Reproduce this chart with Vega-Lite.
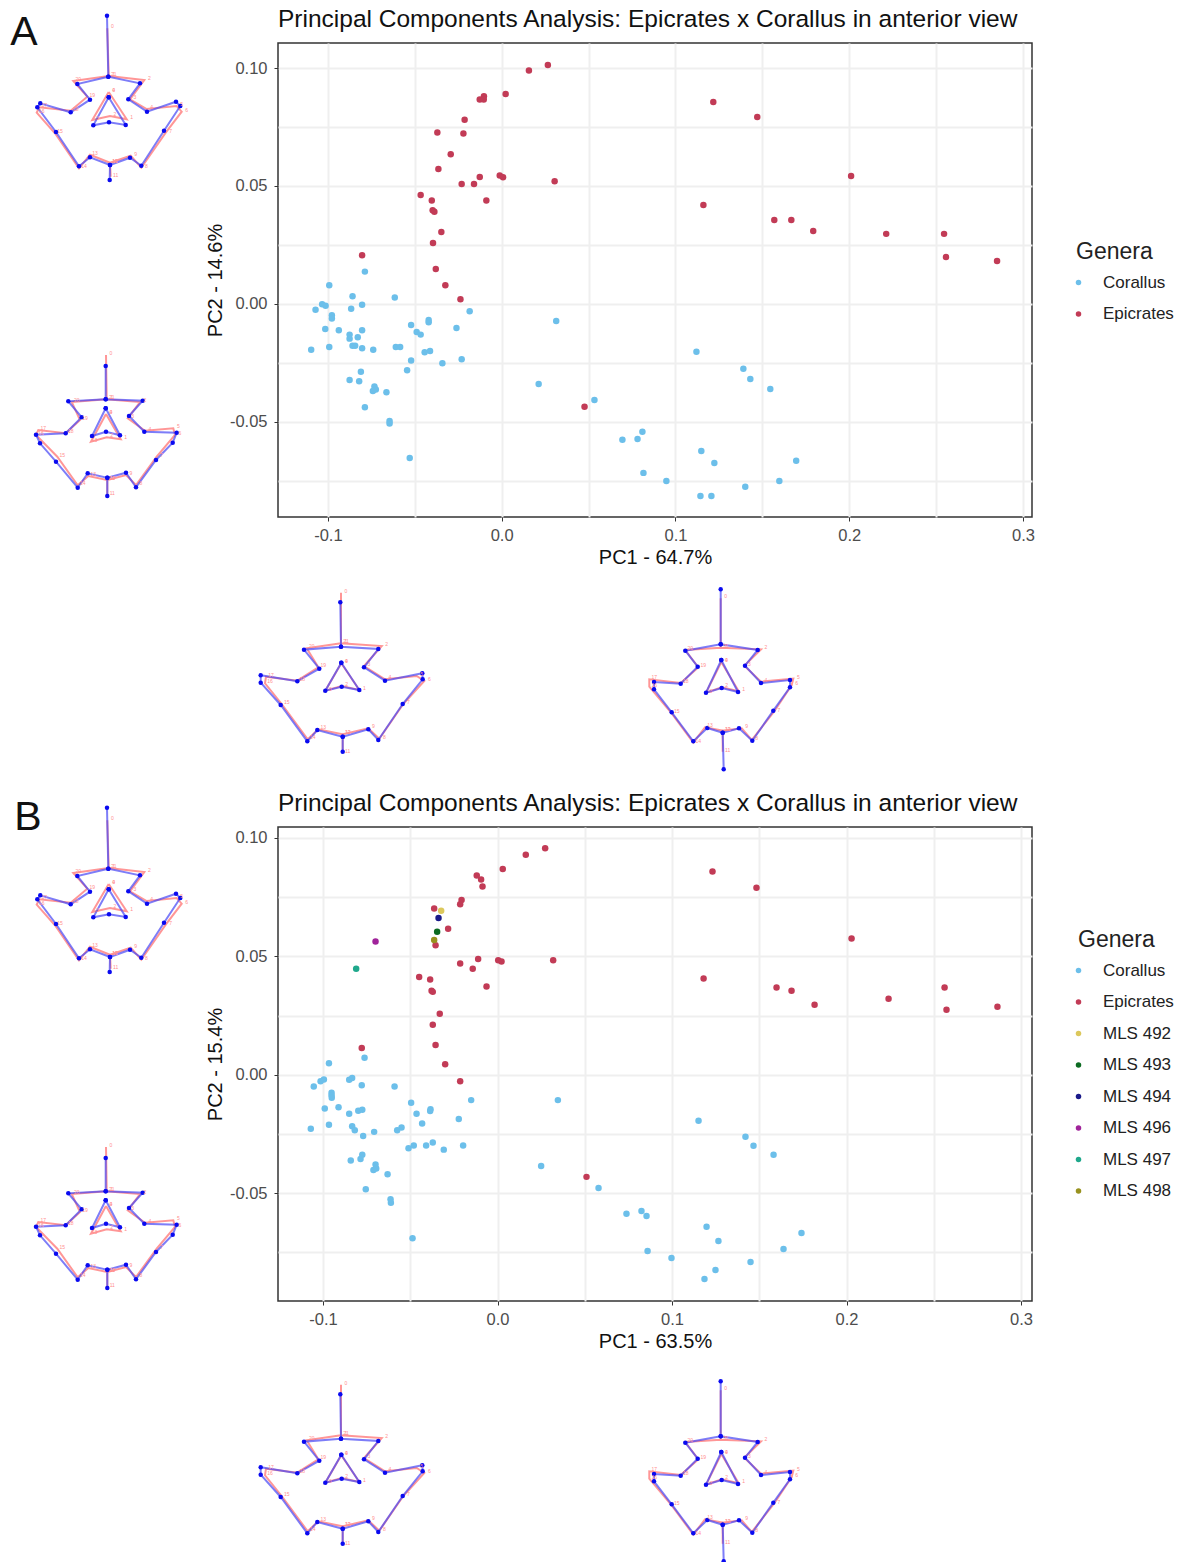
{
"$schema":"https://vega.github.io/schema/vega-lite/v6.json",
"padding":{"left":0,"top":5,"right":0,"bottom":0},
"columns":2,"spacing":0,"bounds":"flush",
"resolve":{"scale":{"color":"independent"},"legend":{"color":"independent"}},
"config":{"view":{"stroke":null},"font":"Liberation Sans",
"axis":{"gridColor":"#efefef","gridWidth":2,"tickColor":"#333333","tickSize":4,"labelColor":"#4d4d4d","labelFontSize":16.5,"labelPadding":6,"titleFontSize":20,"titleFontWeight":"normal","titleColor":"#111111","domain":false,"labelFont":"Liberation Sans","titleFont":"Liberation Sans"},
"legend":{"titleFontSize":23,"titleFontWeight":"normal","titleColor":"#222222","labelFontSize":17,"labelColor":"#222222","symbolSize":30,"symbolType":"circle","symbolOffset":-6,"labelOffset":16,"rowPadding":13.5,"titlePadding":10},
"title":{"fontSize":24.5,"fontWeight":"normal","color":"#111111","anchor":"start","frame":"group","offset":11}},
"datasets":{
"panelA":[
{"Genera":"Epicrates","PC1":0.0266,"PC2":0.1013},{"Genera":"Epicrates","PC1":0.0157,"PC2":0.0989},{"Genera":"Epicrates","PC1":0.0023,"PC2":0.089},{"Genera":"Epicrates","PC1":-0.0102,"PC2":0.088},{"Genera":"Epicrates","PC1":-0.0126,"PC2":0.0867},{"Genera":"Epicrates","PC1":-0.0103,"PC2":0.0867},{"Genera":"Epicrates","PC1":-0.0213,"PC2":0.0781},{"Genera":"Epicrates","PC1":-0.022,"PC2":0.0722},{"Genera":"Epicrates","PC1":-0.037,"PC2":0.0727},{"Genera":"Epicrates","PC1":-0.0293,"PC2":0.0634},{"Genera":"Epicrates","PC1":-0.0364,"PC2":0.0572},{"Genera":"Epicrates","PC1":-0.0126,"PC2":0.0538},{"Genera":"Epicrates","PC1":-0.023,"PC2":0.0508},{"Genera":"Epicrates","PC1":-0.0159,"PC2":0.0508},{"Genera":"Epicrates","PC1":-0.0011,"PC2":0.0544},{"Genera":"Epicrates","PC1":0.0008,"PC2":0.0537},{"Genera":"Epicrates","PC1":0.0305,"PC2":0.052},{"Genera":"Epicrates","PC1":-0.0466,"PC2":0.0462},{"Genera":"Epicrates","PC1":-0.0402,"PC2":0.0438},{"Genera":"Epicrates","PC1":-0.0088,"PC2":0.0438},{"Genera":"Epicrates","PC1":-0.0397,"PC2":0.0397},{"Genera":"Epicrates","PC1":-0.0387,"PC2":0.0391},{"Genera":"Epicrates","PC1":-0.0347,"PC2":0.0305},{"Genera":"Epicrates","PC1":-0.0395,"PC2":0.0258},{"Genera":"Epicrates","PC1":-0.0803,"PC2":0.0206},{"Genera":"Epicrates","PC1":-0.0379,"PC2":0.0148},{"Genera":"Epicrates","PC1":-0.0324,"PC2":0.0079},{"Genera":"Epicrates","PC1":-0.0237,"PC2":0.002},{"Genera":"Epicrates","PC1":0.0477,"PC2":-0.0436},{"Genera":"Epicrates","PC1":0.1218,"PC2":0.0856},{"Genera":"Epicrates","PC1":0.1471,"PC2":0.0792},{"Genera":"Epicrates","PC1":0.2011,"PC2":0.0542},{"Genera":"Epicrates","PC1":0.1161,"PC2":0.0419},{"Genera":"Epicrates","PC1":0.1569,"PC2":0.0356},{"Genera":"Epicrates","PC1":0.1667,"PC2":0.0356},{"Genera":"Epicrates","PC1":0.1793,"PC2":0.0309},{"Genera":"Epicrates","PC1":0.2213,"PC2":0.0297},{"Genera":"Epicrates","PC1":0.2546,"PC2":0.0297},{"Genera":"Epicrates","PC1":0.2557,"PC2":0.0199},{"Genera":"Epicrates","PC1":0.2851,"PC2":0.0182},
{"Genera":"Corallus","PC1":-0.0787,"PC2":0.0137},{"Genera":"Corallus","PC1":-0.0992,"PC2":0.0079},{"Genera":"Corallus","PC1":-0.0858,"PC2":0.0033},{"Genera":"Corallus","PC1":-0.0615,"PC2":0.0027},{"Genera":"Corallus","PC1":-0.0803,"PC2":-0.0003},{"Genera":"Corallus","PC1":-0.1033,"PC2":-0.0001},{"Genera":"Corallus","PC1":-0.1013,"PC2":-0.0008},{"Genera":"Corallus","PC1":-0.1071,"PC2":-0.0025},{"Genera":"Corallus","PC1":-0.0866,"PC2":-0.002},{"Genera":"Corallus","PC1":-0.0977,"PC2":-0.0048},{"Genera":"Corallus","PC1":-0.0977,"PC2":-0.0062},{"Genera":"Corallus","PC1":-0.0184,"PC2":-0.0031},{"Genera":"Corallus","PC1":-0.042,"PC2":-0.0068},{"Genera":"Corallus","PC1":-0.042,"PC2":-0.0078},{"Genera":"Corallus","PC1":-0.0521,"PC2":-0.0089},{"Genera":"Corallus","PC1":-0.026,"PC2":-0.0102},{"Genera":"Corallus","PC1":0.0314,"PC2":-0.0072},{"Genera":"Corallus","PC1":-0.1015,"PC2":-0.0106},{"Genera":"Corallus","PC1":-0.0937,"PC2":-0.0111},{"Genera":"Corallus","PC1":-0.0803,"PC2":-0.0111},{"Genera":"Corallus","PC1":-0.0489,"PC2":-0.0119},{"Genera":"Corallus","PC1":-0.0466,"PC2":-0.013},{"Genera":"Corallus","PC1":-0.0875,"PC2":-0.013},{"Genera":"Corallus","PC1":-0.0875,"PC2":-0.0147},{"Genera":"Corallus","PC1":-0.0828,"PC2":-0.0141},{"Genera":"Corallus","PC1":-0.0858,"PC2":-0.0177},{"Genera":"Corallus","PC1":-0.0843,"PC2":-0.0177},{"Genera":"Corallus","PC1":-0.0992,"PC2":-0.0182},{"Genera":"Corallus","PC1":-0.0803,"PC2":-0.0188},{"Genera":"Corallus","PC1":-0.0739,"PC2":-0.0194},{"Genera":"Corallus","PC1":-0.1096,"PC2":-0.0194},{"Genera":"Corallus","PC1":-0.0609,"PC2":-0.0182},{"Genera":"Corallus","PC1":-0.0584,"PC2":-0.0182},{"Genera":"Corallus","PC1":-0.0412,"PC2":-0.0199},{"Genera":"Corallus","PC1":-0.0443,"PC2":-0.0205},{"Genera":"Corallus","PC1":-0.0521,"PC2":-0.024},{"Genera":"Corallus","PC1":-0.023,"PC2":-0.0234},{"Genera":"Corallus","PC1":-0.0341,"PC2":-0.0251},{"Genera":"Corallus","PC1":-0.0544,"PC2":-0.0281},{"Genera":"Corallus","PC1":-0.081,"PC2":-0.0287},{"Genera":"Corallus","PC1":-0.0875,"PC2":-0.0322},{"Genera":"Corallus","PC1":-0.082,"PC2":-0.0328},{"Genera":"Corallus","PC1":-0.0732,"PC2":-0.035},{"Genera":"Corallus","PC1":-0.0724,"PC2":-0.0363},{"Genera":"Corallus","PC1":-0.0741,"PC2":-0.0369},{"Genera":"Corallus","PC1":-0.0663,"PC2":-0.0374},{"Genera":"Corallus","PC1":-0.0787,"PC2":-0.0438},{"Genera":"Corallus","PC1":-0.0645,"PC2":-0.0496},{"Genera":"Corallus","PC1":-0.0645,"PC2":-0.0507},{"Genera":"Corallus","PC1":-0.0529,"PC2":-0.0653},{"Genera":"Corallus","PC1":0.0213,"PC2":-0.0339},{"Genera":"Corallus","PC1":0.1121,"PC2":-0.0203},{"Genera":"Corallus","PC1":0.1391,"PC2":-0.0275},{"Genera":"Corallus","PC1":0.1431,"PC2":-0.0318},{"Genera":"Corallus","PC1":0.1546,"PC2":-0.036},{"Genera":"Corallus","PC1":0.0534,"PC2":-0.0407},{"Genera":"Corallus","PC1":0.0695,"PC2":-0.0576},{"Genera":"Corallus","PC1":0.0782,"PC2":-0.0572},{"Genera":"Corallus","PC1":0.081,"PC2":-0.0542},{"Genera":"Corallus","PC1":0.0816,"PC2":-0.0716},{"Genera":"Corallus","PC1":0.0948,"PC2":-0.075},{"Genera":"Corallus","PC1":0.1149,"PC2":-0.0623},{"Genera":"Corallus","PC1":0.1224,"PC2":-0.0674},{"Genera":"Corallus","PC1":0.1695,"PC2":-0.0665},{"Genera":"Corallus","PC1":0.1402,"PC2":-0.0775},{"Genera":"Corallus","PC1":0.1598,"PC2":-0.075},{"Genera":"Corallus","PC1":0.1144,"PC2":-0.0814},{"Genera":"Corallus","PC1":0.1207,"PC2":-0.0814}
],
"panelB":[
{"Genera":"Epicrates","PC1":0.0273,"PC2":0.0956},{"Genera":"Epicrates","PC1":0.0162,"PC2":0.0929},{"Genera":"Epicrates","PC1":0.003,"PC2":0.0869},{"Genera":"Epicrates","PC1":-0.0119,"PC2":0.0841},{"Genera":"Epicrates","PC1":-0.0094,"PC2":0.0824},{"Genera":"Epicrates","PC1":-0.0086,"PC2":0.0795},{"Genera":"Epicrates","PC1":-0.0206,"PC2":0.0738},{"Genera":"Epicrates","PC1":-0.0214,"PC2":0.072},{"Genera":"Epicrates","PC1":-0.0363,"PC2":0.0702},{"Genera":"Epicrates","PC1":-0.0283,"PC2":0.0616},{"Genera":"Epicrates","PC1":-0.0355,"PC2":0.0547},{"Genera":"Epicrates","PC1":-0.0111,"PC2":0.0489},{"Genera":"Epicrates","PC1":-0.0214,"PC2":0.047},{"Genera":"Epicrates","PC1":-0.0142,"PC2":0.0448},{"Genera":"Epicrates","PC1":0.0004,"PC2":0.0483},{"Genera":"Epicrates","PC1":0.0023,"PC2":0.0478},{"Genera":"Epicrates","PC1":0.0319,"PC2":0.0483},{"Genera":"Epicrates","PC1":-0.0449,"PC2":0.0413},{"Genera":"Epicrates","PC1":-0.0386,"PC2":0.0402},{"Genera":"Epicrates","PC1":-0.0063,"PC2":0.0373},{"Genera":"Epicrates","PC1":-0.0378,"PC2":0.0355},{"Genera":"Epicrates","PC1":-0.0371,"PC2":0.035},{"Genera":"Epicrates","PC1":-0.0331,"PC2":0.0258},{"Genera":"Epicrates","PC1":-0.0371,"PC2":0.0211},{"Genera":"Epicrates","PC1":-0.0778,"PC2":0.0113},{"Genera":"Epicrates","PC1":-0.0355,"PC2":0.0126},{"Genera":"Epicrates","PC1":-0.03,"PC2":0.0044},{"Genera":"Epicrates","PC1":-0.0214,"PC2":-0.0027},{"Genera":"Epicrates","PC1":0.051,"PC2":-0.0431},{"Genera":"Epicrates","PC1":0.1232,"PC2":0.0858},{"Genera":"Epicrates","PC1":0.1484,"PC2":0.079},{"Genera":"Epicrates","PC1":0.2029,"PC2":0.0575},{"Genera":"Epicrates","PC1":0.1181,"PC2":0.0406},{"Genera":"Epicrates","PC1":0.1599,"PC2":0.0368},{"Genera":"Epicrates","PC1":0.1685,"PC2":0.0355},{"Genera":"Epicrates","PC1":0.1817,"PC2":0.0296},{"Genera":"Epicrates","PC1":0.2241,"PC2":0.0321},{"Genera":"Epicrates","PC1":0.2562,"PC2":0.0368},{"Genera":"Epicrates","PC1":0.2573,"PC2":0.0275},{"Genera":"Epicrates","PC1":0.2865,"PC2":0.0287},
{"Genera":"MLS 492","PC1":-0.0323,"PC2":0.0692},{"Genera":"MLS 494","PC1":-0.0338,"PC2":0.0662},{"Genera":"MLS 493","PC1":-0.0346,"PC2":0.0604},{"Genera":"MLS 498","PC1":-0.0363,"PC2":0.0569},{"Genera":"MLS 496","PC1":-0.0699,"PC2":0.0563},{"Genera":"MLS 497","PC1":-0.081,"PC2":0.0448},
{"Genera":"Corallus","PC1":-0.0762,"PC2":0.0072},{"Genera":"Corallus","PC1":-0.0966,"PC2":0.0049},{"Genera":"Corallus","PC1":-0.0995,"PC2":-0.002},{"Genera":"Corallus","PC1":-0.1014,"PC2":-0.0027},{"Genera":"Corallus","PC1":-0.1053,"PC2":-0.0049},{"Genera":"Corallus","PC1":-0.085,"PC2":-0.0021},{"Genera":"Corallus","PC1":-0.0833,"PC2":-0.0014},{"Genera":"Corallus","PC1":-0.0778,"PC2":-0.0044},{"Genera":"Corallus","PC1":-0.059,"PC2":-0.0049},{"Genera":"Corallus","PC1":-0.0951,"PC2":-0.0076},{"Genera":"Corallus","PC1":-0.0951,"PC2":-0.0086},{"Genera":"Corallus","PC1":-0.095,"PC2":-0.0097},{"Genera":"Corallus","PC1":-0.0495,"PC2":-0.0118},{"Genera":"Corallus","PC1":-0.0151,"PC2":-0.0107},{"Genera":"Corallus","PC1":0.0346,"PC2":-0.0107},{"Genera":"Corallus","PC1":-0.099,"PC2":-0.0142},{"Genera":"Corallus","PC1":-0.0911,"PC2":-0.0137},{"Genera":"Corallus","PC1":-0.0798,"PC2":-0.0152},{"Genera":"Corallus","PC1":-0.0775,"PC2":-0.0148},{"Genera":"Corallus","PC1":-0.085,"PC2":-0.0165},{"Genera":"Corallus","PC1":-0.0464,"PC2":-0.0165},{"Genera":"Corallus","PC1":-0.0384,"PC2":-0.0145},{"Genera":"Corallus","PC1":-0.0386,"PC2":-0.0153},{"Genera":"Corallus","PC1":-0.0222,"PC2":-0.0187},{"Genera":"Corallus","PC1":-0.0432,"PC2":-0.0206},{"Genera":"Corallus","PC1":-0.0966,"PC2":-0.0211},{"Genera":"Corallus","PC1":-0.0833,"PC2":-0.0217},{"Genera":"Corallus","PC1":-0.0818,"PC2":-0.0234},{"Genera":"Corallus","PC1":-0.107,"PC2":-0.0228},{"Genera":"Corallus","PC1":-0.055,"PC2":-0.0223},{"Genera":"Corallus","PC1":-0.0575,"PC2":-0.0234},{"Genera":"Corallus","PC1":-0.0707,"PC2":-0.0241},{"Genera":"Corallus","PC1":-0.077,"PC2":-0.0258},{"Genera":"Corallus","PC1":-0.0371,"PC2":-0.0286},{"Genera":"Corallus","PC1":-0.0409,"PC2":-0.0299},{"Genera":"Corallus","PC1":-0.048,"PC2":-0.0299},{"Genera":"Corallus","PC1":-0.051,"PC2":-0.031},{"Genera":"Corallus","PC1":-0.0197,"PC2":-0.0299},{"Genera":"Corallus","PC1":-0.0308,"PC2":-0.0316},{"Genera":"Corallus","PC1":-0.0775,"PC2":-0.0338},{"Genera":"Corallus","PC1":-0.0785,"PC2":-0.0356},{"Genera":"Corallus","PC1":-0.0841,"PC2":-0.0362},{"Genera":"Corallus","PC1":-0.0699,"PC2":-0.0379},{"Genera":"Corallus","PC1":-0.0695,"PC2":-0.0396},{"Genera":"Corallus","PC1":-0.0711,"PC2":-0.0402},{"Genera":"Corallus","PC1":-0.063,"PC2":-0.042},{"Genera":"Corallus","PC1":-0.0755,"PC2":-0.0483},{"Genera":"Corallus","PC1":-0.0613,"PC2":-0.0525},{"Genera":"Corallus","PC1":-0.0611,"PC2":-0.054},{"Genera":"Corallus","PC1":-0.0487,"PC2":-0.069},{"Genera":"Corallus","PC1":0.025,"PC2":-0.0385},{"Genera":"Corallus","PC1":0.1152,"PC2":-0.0194},{"Genera":"Corallus","PC1":0.1421,"PC2":-0.0262},{"Genera":"Corallus","PC1":0.1467,"PC2":-0.03},{"Genera":"Corallus","PC1":0.1582,"PC2":-0.0338},{"Genera":"Corallus","PC1":0.0579,"PC2":-0.0478},{"Genera":"Corallus","PC1":0.0739,"PC2":-0.0587},{"Genera":"Corallus","PC1":0.0825,"PC2":-0.0575},{"Genera":"Corallus","PC1":0.0854,"PC2":-0.0596},{"Genera":"Corallus","PC1":0.086,"PC2":-0.0744},{"Genera":"Corallus","PC1":0.0997,"PC2":-0.0773},{"Genera":"Corallus","PC1":0.1198,"PC2":-0.0642},{"Genera":"Corallus","PC1":0.1266,"PC2":-0.0702},{"Genera":"Corallus","PC1":0.1742,"PC2":-0.0668},{"Genera":"Corallus","PC1":0.145,"PC2":-0.079},{"Genera":"Corallus","PC1":0.1639,"PC2":-0.0735},{"Genera":"Corallus","PC1":0.1186,"PC2":-0.0862},{"Genera":"Corallus","PC1":0.1249,"PC2":-0.0824}
],
"wires":[
{"w":"1","s":"Red","p":"o","i":0,"x":107.3,"y":28.3},{"w":"1","s":"Red","p":"o","i":1,"x":108.7,"y":76},{"w":"1","s":"Red","p":"o","i":2,"x":144.3,"y":80},{"w":"1","s":"Red","p":"o","i":3,"x":130,"y":99.3},{"w":"1","s":"Red","p":"o","i":4,"x":146.7,"y":109},{"w":"1","s":"Red","p":"o","i":5,"x":176.7,"y":106},{"w":"1","s":"Red","p":"o","i":6,"x":181.7,"y":111.7},{"w":"1","s":"Red","p":"o","i":7,"x":165.7,"y":132.7},{"w":"1","s":"Red","p":"o","i":8,"x":141.3,"y":167.7},{"w":"1","s":"Red","p":"o","i":9,"x":130.7,"y":155.7},{"w":"1","s":"Red","p":"o","i":10,"x":110,"y":162.7},{"w":"1","s":"Red","p":"o","i":11,"x":110.7,"y":176.7},{"w":"1","s":"Red","p":"o","i":12,"x":110,"y":162.7},{"w":"1","s":"Red","p":"o","i":13,"x":90,"y":154.7},{"w":"1","s":"Red","p":"o","i":14,"x":79,"y":168.3},{"w":"1","s":"Red","p":"o","i":15,"x":55,"y":133.3},{"w":"1","s":"Red","p":"o","i":16,"x":36.7,"y":112.7},{"w":"1","s":"Red","p":"o","i":17,"x":39.3,"y":107.3},{"w":"1","s":"Red","p":"o","i":18,"x":70.7,"y":110.7},{"w":"1","s":"Red","p":"o","i":19,"x":87.3,"y":96.7},{"w":"1","s":"Red","p":"o","i":20,"x":73.3,"y":81},{"w":"1","s":"Red","p":"o","i":21,"x":108.7,"y":76},
{"w":"1","s":"Red","p":"t","i":0,"x":108.7,"y":92},{"w":"1","s":"Red","p":"t","i":1,"x":126.7,"y":119.3},{"w":"1","s":"Red","p":"t","i":2,"x":110,"y":116},{"w":"1","s":"Red","p":"t","i":3,"x":92.3,"y":120},{"w":"1","s":"Red","p":"t","i":4,"x":108.7,"y":92},
{"w":"1","s":"Blue","p":"o","i":0,"x":107,"y":15.7},{"w":"1","s":"Blue","p":"o","i":1,"x":108.3,"y":76.7},{"w":"1","s":"Blue","p":"o","i":2,"x":140,"y":83.3},{"w":"1","s":"Blue","p":"o","i":3,"x":128.3,"y":99.3},{"w":"1","s":"Blue","p":"o","i":4,"x":147,"y":111.7},{"w":"1","s":"Blue","p":"o","i":5,"x":176,"y":101.7},{"w":"1","s":"Blue","p":"o","i":6,"x":180.3,"y":106},{"w":"1","s":"Blue","p":"o","i":7,"x":164,"y":130.7},{"w":"1","s":"Blue","p":"o","i":8,"x":141.3,"y":165.7},{"w":"1","s":"Blue","p":"o","i":9,"x":130,"y":157.7},{"w":"1","s":"Blue","p":"o","i":10,"x":110,"y":165},{"w":"1","s":"Blue","p":"o","i":11,"x":109.7,"y":180},{"w":"1","s":"Blue","p":"o","i":12,"x":110,"y":165},{"w":"1","s":"Blue","p":"o","i":13,"x":90,"y":157.3},{"w":"1","s":"Blue","p":"o","i":14,"x":79,"y":166.3},{"w":"1","s":"Blue","p":"o","i":15,"x":56,"y":132},{"w":"1","s":"Blue","p":"o","i":16,"x":37.3,"y":107.3},{"w":"1","s":"Blue","p":"o","i":17,"x":40.3,"y":103.3},{"w":"1","s":"Blue","p":"o","i":18,"x":70.7,"y":112.3},{"w":"1","s":"Blue","p":"o","i":19,"x":90,"y":99.7},{"w":"1","s":"Blue","p":"o","i":20,"x":77.3,"y":84},{"w":"1","s":"Blue","p":"o","i":21,"x":108.3,"y":76.7},
{"w":"1","s":"Blue","p":"t","i":0,"x":108.7,"y":97.3},{"w":"1","s":"Blue","p":"t","i":1,"x":125.7,"y":125},{"w":"1","s":"Blue","p":"t","i":2,"x":109,"y":122.3},{"w":"1","s":"Blue","p":"t","i":3,"x":93.3,"y":125.3},{"w":"1","s":"Blue","p":"t","i":4,"x":108.7,"y":97.3},

{"w":"2","s":"Red","p":"o","i":0,"x":106,"y":355},{"w":"2","s":"Red","p":"o","i":1,"x":106.7,"y":399.3},{"w":"2","s":"Red","p":"o","i":2,"x":140,"y":402},{"w":"2","s":"Red","p":"o","i":3,"x":127.7,"y":418.3},{"w":"2","s":"Red","p":"o","i":4,"x":145,"y":430.7},{"w":"2","s":"Red","p":"o","i":5,"x":173.3,"y":428.3},{"w":"2","s":"Red","p":"o","i":6,"x":175,"y":435},{"w":"2","s":"Red","p":"o","i":7,"x":156.7,"y":456.7},{"w":"2","s":"Red","p":"o","i":8,"x":136,"y":485},{"w":"2","s":"Red","p":"o","i":9,"x":126,"y":475},{"w":"2","s":"Red","p":"o","i":10,"x":107.3,"y":480},{"w":"2","s":"Red","p":"o","i":11,"x":107.3,"y":495},{"w":"2","s":"Red","p":"o","i":12,"x":107.3,"y":480},{"w":"2","s":"Red","p":"o","i":13,"x":88.3,"y":476},{"w":"2","s":"Red","p":"o","i":14,"x":77.7,"y":485.3},{"w":"2","s":"Red","p":"o","i":15,"x":57.3,"y":456.7},{"w":"2","s":"Red","p":"o","i":16,"x":36,"y":435},{"w":"2","s":"Red","p":"o","i":17,"x":38.3,"y":430},{"w":"2","s":"Red","p":"o","i":18,"x":65.7,"y":433.3},{"w":"2","s":"Red","p":"o","i":19,"x":80,"y":420},{"w":"2","s":"Red","p":"o","i":20,"x":71.7,"y":402},{"w":"2","s":"Red","p":"o","i":21,"x":106.7,"y":399.3},
{"w":"2","s":"Red","p":"t","i":0,"x":106,"y":414},{"w":"2","s":"Red","p":"t","i":1,"x":120.7,"y":439.3},{"w":"2","s":"Red","p":"t","i":2,"x":106.7,"y":437.3},{"w":"2","s":"Red","p":"t","i":3,"x":91,"y":441.7},{"w":"2","s":"Red","p":"t","i":4,"x":106,"y":414},
{"w":"2","s":"Blue","p":"o","i":0,"x":105.7,"y":366},{"w":"2","s":"Blue","p":"o","i":1,"x":105.7,"y":399.3},{"w":"2","s":"Blue","p":"o","i":2,"x":142.7,"y":400.7},{"w":"2","s":"Blue","p":"o","i":3,"x":129,"y":416},{"w":"2","s":"Blue","p":"o","i":4,"x":144.3,"y":431.7},{"w":"2","s":"Blue","p":"o","i":5,"x":176.7,"y":432.7},{"w":"2","s":"Blue","p":"o","i":6,"x":172.7,"y":442.7},{"w":"2","s":"Blue","p":"o","i":7,"x":156,"y":460},{"w":"2","s":"Blue","p":"o","i":8,"x":136,"y":487.3},{"w":"2","s":"Blue","p":"o","i":9,"x":126,"y":472.7},{"w":"2","s":"Blue","p":"o","i":10,"x":107.3,"y":477.7},{"w":"2","s":"Blue","p":"o","i":11,"x":107.3,"y":496},{"w":"2","s":"Blue","p":"o","i":12,"x":107.3,"y":477.7},{"w":"2","s":"Blue","p":"o","i":13,"x":87.7,"y":473.3},{"w":"2","s":"Blue","p":"o","i":14,"x":77.7,"y":487.7},{"w":"2","s":"Blue","p":"o","i":15,"x":56,"y":461.7},{"w":"2","s":"Blue","p":"o","i":16,"x":40,"y":443.3},{"w":"2","s":"Blue","p":"o","i":17,"x":36,"y":434.7},{"w":"2","s":"Blue","p":"o","i":18,"x":65.7,"y":433.3},{"w":"2","s":"Blue","p":"o","i":19,"x":81.7,"y":417.3},{"w":"2","s":"Blue","p":"o","i":20,"x":68.3,"y":401.3},{"w":"2","s":"Blue","p":"o","i":21,"x":105.7,"y":399.3},
{"w":"2","s":"Blue","p":"t","i":0,"x":105.7,"y":408.3},{"w":"2","s":"Blue","p":"t","i":1,"x":120,"y":435.3},{"w":"2","s":"Blue","p":"t","i":2,"x":106,"y":431.7},{"w":"2","s":"Blue","p":"t","i":3,"x":92,"y":436},{"w":"2","s":"Blue","p":"t","i":4,"x":105.7,"y":408.3},

{"w":"3","s":"Red","p":"o","i":0,"x":341,"y":592.7},{"w":"3","s":"Red","p":"o","i":1,"x":341,"y":643.3},{"w":"3","s":"Red","p":"o","i":2,"x":381.7,"y":646},{"w":"3","s":"Red","p":"o","i":3,"x":364,"y":666},{"w":"3","s":"Red","p":"o","i":4,"x":385,"y":679.3},{"w":"3","s":"Red","p":"o","i":5,"x":416.7,"y":676},{"w":"3","s":"Red","p":"o","i":6,"x":424.3,"y":681},{"w":"3","s":"Red","p":"o","i":7,"x":403.3,"y":704},{"w":"3","s":"Red","p":"o","i":8,"x":379.3,"y":738.7},{"w":"3","s":"Red","p":"o","i":9,"x":368.3,"y":728.3},{"w":"3","s":"Red","p":"o","i":10,"x":342.7,"y":734.3},{"w":"3","s":"Red","p":"o","i":11,"x":342.7,"y":752.7},{"w":"3","s":"Red","p":"o","i":12,"x":342.7,"y":734.3},{"w":"3","s":"Red","p":"o","i":13,"x":318.3,"y":729.3},{"w":"3","s":"Red","p":"o","i":14,"x":307.7,"y":739.3},{"w":"3","s":"Red","p":"o","i":15,"x":281.7,"y":704},{"w":"3","s":"Red","p":"o","i":16,"x":265,"y":683.3},{"w":"3","s":"Red","p":"o","i":17,"x":266,"y":676.7},{"w":"3","s":"Red","p":"o","i":18,"x":297.3,"y":680.7},{"w":"3","s":"Red","p":"o","i":19,"x":318.3,"y":667.3},{"w":"3","s":"Red","p":"o","i":20,"x":306.7,"y":648.3},{"w":"3","s":"Red","p":"o","i":21,"x":341,"y":643.3},
{"w":"3","s":"Red","p":"t","i":0,"x":341.3,"y":663.3},{"w":"3","s":"Red","p":"t","i":1,"x":359.3,"y":690},{"w":"3","s":"Red","p":"t","i":2,"x":341.7,"y":686},{"w":"3","s":"Red","p":"t","i":3,"x":325.3,"y":690.7},{"w":"3","s":"Red","p":"t","i":4,"x":341.3,"y":663.3},
{"w":"3","s":"Blue","p":"o","i":0,"x":340.3,"y":602.3},{"w":"3","s":"Blue","p":"o","i":1,"x":341,"y":646.7},{"w":"3","s":"Blue","p":"o","i":2,"x":378.3,"y":649},{"w":"3","s":"Blue","p":"o","i":3,"x":364,"y":667.3},{"w":"3","s":"Blue","p":"o","i":4,"x":385,"y":680.7},{"w":"3","s":"Blue","p":"o","i":5,"x":422.3,"y":673.3},{"w":"3","s":"Blue","p":"o","i":6,"x":422.7,"y":679.3},{"w":"3","s":"Blue","p":"o","i":7,"x":402.7,"y":704},{"w":"3","s":"Blue","p":"o","i":8,"x":378.3,"y":740},{"w":"3","s":"Blue","p":"o","i":9,"x":368.3,"y":729.3},{"w":"3","s":"Blue","p":"o","i":10,"x":342.7,"y":736.7},{"w":"3","s":"Blue","p":"o","i":11,"x":342.7,"y":751.7},{"w":"3","s":"Blue","p":"o","i":12,"x":342.7,"y":736.7},{"w":"3","s":"Blue","p":"o","i":13,"x":317.3,"y":730},{"w":"3","s":"Blue","p":"o","i":14,"x":307.3,"y":741.3},{"w":"3","s":"Blue","p":"o","i":15,"x":280.7,"y":705},{"w":"3","s":"Blue","p":"o","i":16,"x":260.7,"y":682.7},{"w":"3","s":"Blue","p":"o","i":17,"x":260.7,"y":675.3},{"w":"3","s":"Blue","p":"o","i":18,"x":297.3,"y":681.3},{"w":"3","s":"Blue","p":"o","i":19,"x":319.3,"y":668.7},{"w":"3","s":"Blue","p":"o","i":20,"x":304,"y":649.7},{"w":"3","s":"Blue","p":"o","i":21,"x":341,"y":646.7},
{"w":"3","s":"Blue","p":"t","i":0,"x":341.3,"y":662.7},{"w":"3","s":"Blue","p":"t","i":1,"x":359.3,"y":690},{"w":"3","s":"Blue","p":"t","i":2,"x":341.7,"y":686.7},{"w":"3","s":"Blue","p":"t","i":3,"x":325.3,"y":690.7},{"w":"3","s":"Blue","p":"t","i":4,"x":341.3,"y":662.7},

{"w":"4","s":"Red","p":"o","i":0,"x":720.7,"y":598.3},{"w":"4","s":"Red","p":"o","i":1,"x":720.7,"y":647.7},{"w":"4","s":"Red","p":"o","i":2,"x":761,"y":649.3},{"w":"4","s":"Red","p":"o","i":3,"x":744.3,"y":665.7},{"w":"4","s":"Red","p":"o","i":4,"x":761,"y":681.7},{"w":"4","s":"Red","p":"o","i":5,"x":793.3,"y":678.7},{"w":"4","s":"Red","p":"o","i":6,"x":791.7,"y":685},{"w":"4","s":"Red","p":"o","i":7,"x":774,"y":711.7},{"w":"4","s":"Red","p":"o","i":8,"x":751.7,"y":740},{"w":"4","s":"Red","p":"o","i":9,"x":741.7,"y":728.3},{"w":"4","s":"Red","p":"o","i":10,"x":722.7,"y":730.7},{"w":"4","s":"Red","p":"o","i":11,"x":722.7,"y":751.7},{"w":"4","s":"Red","p":"o","i":12,"x":722.7,"y":730.7},{"w":"4","s":"Red","p":"o","i":13,"x":705,"y":727.3},{"w":"4","s":"Red","p":"o","i":14,"x":693.3,"y":742.7},{"w":"4","s":"Red","p":"o","i":15,"x":671.7,"y":713.3},{"w":"4","s":"Red","p":"o","i":16,"x":649.3,"y":686.7},{"w":"4","s":"Red","p":"o","i":17,"x":649.3,"y":679.3},{"w":"4","s":"Red","p":"o","i":18,"x":680.7,"y":683},{"w":"4","s":"Red","p":"o","i":19,"x":698.3,"y":667.3},{"w":"4","s":"Red","p":"o","i":20,"x":685.3,"y":650},{"w":"4","s":"Red","p":"o","i":21,"x":720.7,"y":647.7},
{"w":"4","s":"Red","p":"t","i":0,"x":721.3,"y":662},{"w":"4","s":"Red","p":"t","i":1,"x":738.7,"y":691.3},{"w":"4","s":"Red","p":"t","i":2,"x":721.7,"y":687.3},{"w":"4","s":"Red","p":"t","i":3,"x":706,"y":692.7},{"w":"4","s":"Red","p":"t","i":4,"x":721.3,"y":662},
{"w":"4","s":"Blue","p":"o","i":0,"x":720.7,"y":589.3},{"w":"4","s":"Blue","p":"o","i":1,"x":720.7,"y":644.3},{"w":"4","s":"Blue","p":"o","i":2,"x":757.7,"y":650},{"w":"4","s":"Blue","p":"o","i":3,"x":745,"y":665.7},{"w":"4","s":"Blue","p":"o","i":4,"x":761,"y":683},{"w":"4","s":"Blue","p":"o","i":5,"x":790,"y":680},{"w":"4","s":"Blue","p":"o","i":6,"x":790,"y":687.3},{"w":"4","s":"Blue","p":"o","i":7,"x":773.3,"y":710.7},{"w":"4","s":"Blue","p":"o","i":8,"x":752.3,"y":740.7},{"w":"4","s":"Blue","p":"o","i":9,"x":739,"y":728.3},{"w":"4","s":"Blue","p":"o","i":10,"x":722.7,"y":732.7},{"w":"4","s":"Blue","p":"o","i":11,"x":723.7,"y":769.3},{"w":"4","s":"Blue","p":"o","i":12,"x":722.7,"y":732.7},{"w":"4","s":"Blue","p":"o","i":13,"x":707.3,"y":728},{"w":"4","s":"Blue","p":"o","i":14,"x":693.3,"y":741.3},{"w":"4","s":"Blue","p":"o","i":15,"x":671.7,"y":712.3},{"w":"4","s":"Blue","p":"o","i":16,"x":654,"y":689.3},{"w":"4","s":"Blue","p":"o","i":17,"x":654,"y":682},{"w":"4","s":"Blue","p":"o","i":18,"x":680.7,"y":683.7},{"w":"4","s":"Blue","p":"o","i":19,"x":697.7,"y":666.7},{"w":"4","s":"Blue","p":"o","i":20,"x":685.3,"y":650.7},{"w":"4","s":"Blue","p":"o","i":21,"x":720.7,"y":644.3},
{"w":"4","s":"Blue","p":"t","i":0,"x":721.3,"y":660},{"w":"4","s":"Blue","p":"t","i":1,"x":738,"y":692},{"w":"4","s":"Blue","p":"t","i":2,"x":721.7,"y":688},{"w":"4","s":"Blue","p":"t","i":3,"x":706,"y":692.7},{"w":"4","s":"Blue","p":"t","i":4,"x":721.3,"y":660}
]},
"concat":[
{"width":278,"height":474,"data":{"name":"wires"},"transform":[{"filter":"datum.w=='1'||datum.w=='2'"}],
"encoding":{"x":{"field":"x","type":"quantitative","scale":{"domain":[0,278]},"axis":null},"y":{"field":"y","type":"quantitative","scale":{"domain":[517,43]},"axis":null}},
"layer":[
{"mark":{"type":"line","strokeWidth":2,"opacity":0.7,"clip":false},"encoding":{"color":{"field":"s","type":"nominal","scale":{"domain":["Red","Blue"],"range":["#ff6a6a","#4646f5"]},"legend":null},"detail":[{"field":"w"},{"field":"p"}],"order":{"field":"i","type":"quantitative"}}},
{"transform":[{"filter":"datum.s=='Blue'"}],"mark":{"type":"point","filled":true,"size":20,"color":"#0a0af0","opacity":1}},
{"transform":[{"filter":"datum.s=='Red'"}],"mark":{"type":"text","fontSize":5,"dx":5,"dy":-2,"color":"#ff8f8f"},"encoding":{"text":{"field":"i"}}},
{"data":{"values":[{"label":"A","x":24,"y":33}]},"transform":[],"mark":{"type":"text","fontSize":41,"color":"#111111","font":"Liberation Sans"},"encoding":{"text":{"field":"label"}}}
]},
{"width":754,"height":474,"view":{"stroke":"#333333","strokeWidth":1.5},"data":{"name":"panelA"},"title":"Principal Components Analysis: Epicrates x Corallus in anterior view",
"mark":{"type":"point","filled":true,"size":42,"opacity":1},
"encoding":{
"x":{"field":"PC1","type":"quantitative","scale":{"domain":[-0.1287,0.3052],"nice":false,"zero":false},"axis":{"title":"PC1 - 64.7%","values":[-0.1,-0.05,0,0.05,0.1,0.15,0.2,0.25,0.3],"labelExpr":"abs(datum.value/0.1-round(datum.value/0.1))>0.01?'':replace(format(datum.value,'.1f'),'−','-')","tickOpacity":{"condition":{"test":"abs(datum.value/0.1-round(datum.value/0.1))>0.01","value":0},"value":1},"titlePadding":4}},
"y":{"field":"PC2","type":"quantitative","scale":{"domain":[-0.0903,0.1106],"nice":false,"zero":false},"axis":{"title":"PC2 - 14.6%","labelPadding":7,"values":[-0.075,-0.05,-0.025,0,0.025,0.05,0.075,0.1],"labelExpr":"abs(datum.value/0.05-round(datum.value/0.05))>0.01?'':replace(format(datum.value,'.2f'),'−','-')","tickOpacity":{"condition":{"test":"abs(datum.value/0.05-round(datum.value/0.05))>0.01","value":0},"value":1},"titlePadding":4}},
"color":{"field":"Genera","type":"nominal","scale":{"domain":["Corallus","Epicrates"],"range":["#6cbfea","#c23b56"]},"legend":{"orient":"none","legendX":798,"legendY":198}}}},
{"width":278,"height":310,"data":{"values":[{"label":"B","x":28,"y":818}]},"mark":{"type":"text","fontSize":41,"color":"#111111","font":"Liberation Sans"},
"encoding":{"x":{"field":"x","type":"quantitative","scale":{"domain":[0,278]},"axis":null},"y":{"field":"y","type":"quantitative","scale":{"domain":[827,517]},"axis":null},"text":{"field":"label"}}},
{"width":754,"height":310,"data":{"name":"wires"},"transform":[{"filter":"datum.w=='3'||datum.w=='4'"}],
"encoding":{"x":{"field":"x","type":"quantitative","scale":{"domain":[278,1032]},"axis":null},"y":{"field":"y","type":"quantitative","scale":{"domain":[827,517]},"axis":null}},
"layer":[
{"mark":{"type":"line","strokeWidth":2,"opacity":0.7,"clip":false},"encoding":{"color":{"field":"s","type":"nominal","scale":{"domain":["Red","Blue"],"range":["#ff6a6a","#4646f5"]},"legend":null},"detail":[{"field":"w"},{"field":"p"}],"order":{"field":"i","type":"quantitative"}}},
{"transform":[{"filter":"datum.s=='Blue'"}],"mark":{"type":"point","filled":true,"size":20,"color":"#0a0af0","opacity":1}},
{"transform":[{"filter":"datum.s=='Red'"}],"mark":{"type":"text","fontSize":5,"dx":5,"dy":-2,"color":"#ff8f8f"},"encoding":{"text":{"field":"i"}}}
]},
{"width":278,"height":474,"data":{"name":"wires"},"transform":[{"filter":"datum.w=='1'||datum.w=='2'"}],
"encoding":{"x":{"field":"x","type":"quantitative","scale":{"domain":[0,278]},"axis":null},"y":{"field":"y","type":"quantitative","scale":{"domain":[509,35]},"axis":null}},
"layer":[
{"mark":{"type":"line","strokeWidth":2,"opacity":0.7,"clip":false},"encoding":{"color":{"field":"s","type":"nominal","scale":{"domain":["Red","Blue"],"range":["#ff6a6a","#4646f5"]},"legend":null},"detail":[{"field":"w"},{"field":"p"}],"order":{"field":"i","type":"quantitative"}}},
{"transform":[{"filter":"datum.s=='Blue'"}],"mark":{"type":"point","filled":true,"size":20,"color":"#0a0af0","opacity":1}},
{"transform":[{"filter":"datum.s=='Red'"}],"mark":{"type":"text","fontSize":5,"dx":5,"dy":-2,"color":"#ff8f8f"},"encoding":{"text":{"field":"i"}}}
]},
{"width":754,"height":474,"view":{"stroke":"#333333","strokeWidth":1.5},"data":{"name":"panelB"},"title":"Principal Components Analysis: Epicrates x Corallus in anterior view",
"mark":{"type":"point","filled":true,"size":42,"opacity":1},
"encoding":{
"x":{"field":"PC1","type":"quantitative","scale":{"domain":[-0.1258,0.3063],"nice":false,"zero":false},"axis":{"title":"PC1 - 63.5%","values":[-0.1,-0.05,0,0.05,0.1,0.15,0.2,0.25,0.3],"labelExpr":"abs(datum.value/0.1-round(datum.value/0.1))>0.01?'':replace(format(datum.value,'.1f'),'−','-')","tickOpacity":{"condition":{"test":"abs(datum.value/0.1-round(datum.value/0.1))>0.01","value":0},"value":1},"titlePadding":4}},
"y":{"field":"PC2","type":"quantitative","scale":{"domain":[-0.0955,0.1046],"nice":false,"zero":false},"axis":{"title":"PC2 - 15.4%","labelPadding":7,"values":[-0.075,-0.05,-0.025,0,0.025,0.05,0.075,0.1],"labelExpr":"abs(datum.value/0.05-round(datum.value/0.05))>0.01?'':replace(format(datum.value,'.2f'),'−','-')","tickOpacity":{"condition":{"test":"abs(datum.value/0.05-round(datum.value/0.05))>0.01","value":0},"value":1},"titlePadding":4}},
"color":{"field":"Genera","type":"nominal","scale":{"domain":["Corallus","Epicrates","MLS 492","MLS 493","MLS 494","MLS 496","MLS 497","MLS 498"],"range":["#6cbfea","#c23b56","#dcc85c","#0c6b22","#1a1a8a","#a0239a","#1fa88c","#98921f"]},"legend":{"orient":"none","legendX":800,"legendY":102,"symbolOffset":-8,"labelOffset":16}}}},
{"width":278,"height":261,"data":{"name":"wires"},"transform":[{"filter":"datum.w=='3'||datum.w=='4'"}],
"encoding":{"x":{"field":"x","type":"quantitative","scale":{"domain":[0,278]},"axis":null},"y":{"field":"y","type":"quantitative","scale":{"domain":[770,509]},"axis":null}},
"layer":[
{"mark":{"type":"line","strokeWidth":2,"opacity":0.7,"clip":false},"encoding":{"color":{"field":"s","type":"nominal","scale":{"domain":["Red","Blue"],"range":["#ff6a6a","#4646f5"]},"legend":null},"detail":[{"field":"w"},{"field":"p"}],"order":{"field":"i","type":"quantitative"}}},
{"transform":[{"filter":"datum.s=='Blue'"}],"mark":{"type":"point","filled":true,"size":20,"color":"#0a0af0","opacity":1}},
{"transform":[{"filter":"datum.s=='Red'"}],"mark":{"type":"text","fontSize":5,"dx":5,"dy":-2,"color":"#ff8f8f"},"encoding":{"text":{"field":"i"}}}
]}
]
}
